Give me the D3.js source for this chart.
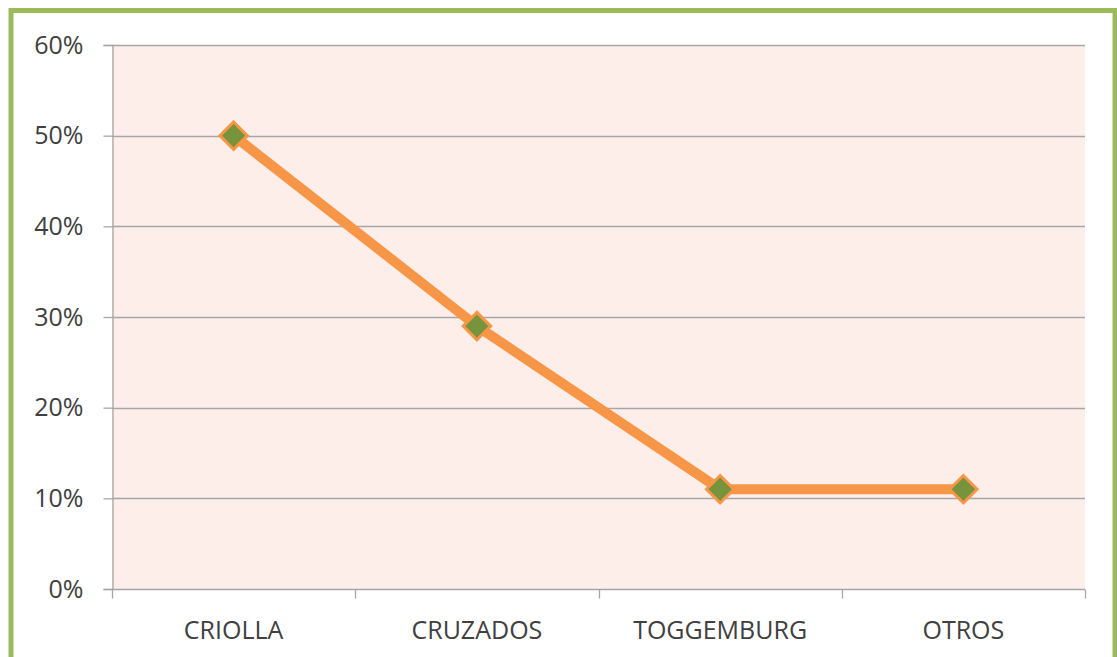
<!DOCTYPE html>
<html><head><meta charset="utf-8">
<script src="https://cdn.jsdelivr.net/npm/d3@7"></script>
<style>body{margin:0;background:#fff;}svg{display:block;}</style>
</head><body>
<svg id="c" width="1117" height="657"></svg>
<script>
const categories = ["CRIOLLA", "CRUZADOS", "TOGGEMBURG", "OTROS"];
const values = [0.50, 0.29, 0.11, 0.11];
const yTicks = [0, 0.1, 0.2, 0.3, 0.4, 0.5, 0.6];

const svg = d3.select("#c");
const m = {left:112, right:1085, top:45, bottom:589};
const font = "'Open Sans', 'Liberation Sans', sans-serif";

// outer frame
svg.append("rect").attr("x",11).attr("y",10.5).attr("width",1104).attr("height",660)
  .attr("fill","#fff").attr("stroke","#9BBB59").attr("stroke-width",5);

const x = d3.scaleBand().domain(categories).range([m.left, m.right]).padding(0);
const y = d3.scaleLinear().domain([0,0.6]).range([m.bottom, m.top]);

svg.append("rect").attr("x",m.left).attr("y",m.top).attr("width",m.right-m.left).attr("height",m.bottom-m.top)
  .attr("fill","#FDEEEA");

// gridlines
svg.append("g").selectAll("line").data(yTicks.filter(d=>d>0)).join("line")
  .attr("x1",m.left).attr("x2",m.right)
  .attr("y1",d=>Math.round(y(d))+0.5).attr("y2",d=>Math.round(y(d))+0.5)
  .attr("stroke","#A6A6A6").attr("stroke-width",1.3);

// y axis
const yAxis = d3.axisLeft(y).tickValues(yTicks).tickFormat(d3.format(".0%")).tickSize(9).tickPadding(20);
const gy = svg.append("g").attr("transform",`translate(${m.left+0.5},0)`).call(yAxis);
gy.selectAll("path,line").attr("stroke","#A6A6A6").attr("stroke-width",1.3);
gy.selectAll("text").attr("fill","#404040").style("font-family",font).style("font-size","25px");

// x axis
const gx = svg.append("g").attr("transform",`translate(0,${m.bottom+0.5})`);
gx.append("line").attr("x1",m.left).attr("x2",m.right).attr("stroke","#A6A6A6").attr("stroke-width",1.3);
const bounds = categories.map(c=>x(c)).concat([x(categories[categories.length-1])+x.bandwidth()]);
gx.selectAll("line.t").data(bounds).join("line").attr("class","t")
  .attr("x1",d=>Math.round(d)+0.5).attr("x2",d=>Math.round(d)+0.5).attr("y1",0).attr("y2",9)
  .attr("stroke","#A6A6A6").attr("stroke-width",1.3);
gx.selectAll("text").data(categories).join("text")
  .attr("x",d=>x(d)+x.bandwidth()/2).attr("y",49)
  .attr("text-anchor","middle").attr("fill","#404040")
  .style("font-family",font).style("font-size","25px")
  .text(d=>d);

// line
const pts = categories.map((c,i)=>[x(c)+x.bandwidth()/2, y(values[i])]);
svg.append("path").datum(pts).attr("d",d3.line())
  .attr("fill","none").attr("stroke","#F79646").attr("stroke-width",10).attr("stroke-linejoin","round");

// markers
svg.append("g").selectAll("path").data(pts).join("path")
  .attr("transform",d=>`translate(${d[0]},${d[1]})`)
  .attr("d",d3.symbol().type(d3.symbolDiamond2).size(480))
  .attr("fill","#77933C").attr("stroke","#F79646").attr("stroke-width",3);
</script>
</body></html>
